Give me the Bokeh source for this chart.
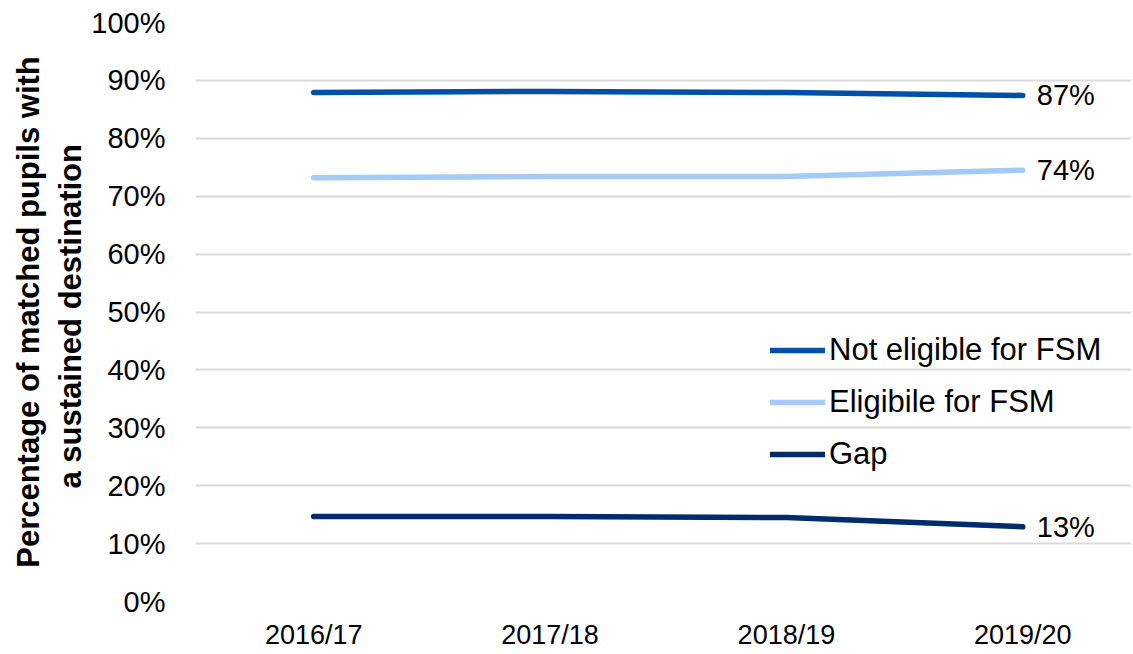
from bokeh.plotting import figure
from bokeh.models import Range1d, FixedTicker, Legend, LegendItem, ColumnDataSource
from bokeh.core.properties import value
from bokeh.embed import file_html
from bokeh.resources import INLINE

years = ["2016/17", "2017/18", "2018/19", "2019/20"]
not_eligible = [87.9, 88.1, 87.9, 87.4]
eligible = [73.2, 73.4, 73.4, 74.5]
gap = [14.7, 14.7, 14.5, 12.9]
end_labels = ["87%", "74%", "13%"]

FONT = "Liberation Sans"
xs = list(range(len(years)))

p = figure(width=1131, height=652, output_backend="svg", toolbar_location=None,
           x_range=Range1d(-0.5, 3.46), y_range=Range1d(0, 100),
           min_border_left=195, min_border_right=0, min_border_top=22, min_border_bottom=50)
p.outline_line_color = None
p.background_fill_color = None

c_ne, c_e, c_g = "#0050a8", "#a4cbf7", "#002c6b"
r1 = p.line(xs, not_eligible, line_color=c_ne, line_width=5.5, line_cap="round")
r2 = p.line(xs, eligible, line_color=c_e, line_width=5.5, line_cap="round")
r3 = p.line(xs, gap, line_color=c_g, line_width=5.5, line_cap="round")

src = ColumnDataSource(dict(x=[xs[-1]] * 3, y=[not_eligible[-1], eligible[-1], gap[-1]], t=end_labels))
p.text(x="x", y="y", text="t", source=src, x_offset=14, text_baseline="middle",
       text_font=value(FONT), text_font_size="29px", text_color="#000000")

p.xgrid.grid_line_color = None
p.ygrid.grid_line_color = "#d9d9d9"
p.ygrid.grid_line_width = 2
p.yaxis.ticker = FixedTicker(ticks=list(range(0, 101, 10)))
p.yaxis.major_label_overrides = {v: f"{v}%" for v in range(0, 101, 10)}
p.xaxis.ticker = FixedTicker(ticks=xs)
p.xaxis.major_label_overrides = {i: y for i, y in enumerate(years)}
for ax in (p.xaxis[0], p.yaxis[0]):
    ax.axis_line_color = None
    ax.major_tick_line_color = None
    ax.minor_tick_line_color = None
    ax.major_label_text_font = FONT
    ax.major_label_text_color = "#000000"
p.yaxis.major_label_text_font_size = "29px"
p.xaxis.major_label_text_font_size = "27px"
p.yaxis.major_label_standoff = 24
p.xaxis.major_label_standoff = 12
p.yaxis.axis_label = "Percentage of matched pupils with\na  sustained destination"
p.yaxis.axis_label_text_font = FONT
p.yaxis.axis_label_text_font_size = "31px"
p.yaxis.axis_label_text_font_style = "bold"
p.yaxis.axis_label_text_color = "#000000"
p.yaxis.axis_label_standoff = 0

legend = Legend(items=[LegendItem(label="Not eligible for FSM", renderers=[r1]),
                       LegendItem(label="Eligibile for FSM", renderers=[r2]),
                       LegendItem(label="Gap", renderers=[r3])],
                location=(575, 129), background_fill_alpha=0, border_line_color=None,
                glyph_width=55, glyph_height=36, label_height=36, spacing=16,
                label_standoff=4, padding=0, margin=0,
                label_text_font=FONT, label_text_font_size="31px", label_text_color="#000000")
p.add_layout(legend)

open("out.html", "w").write(file_html(p, INLINE))
